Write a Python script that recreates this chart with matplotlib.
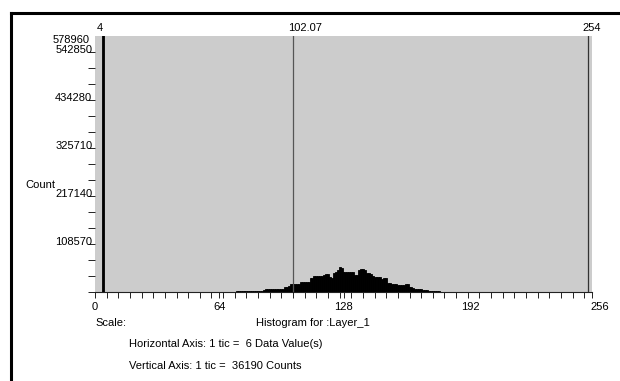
import numpy as np
import matplotlib
matplotlib.use("Agg")
import matplotlib.pyplot as plt
from matplotlib.lines import Line2D
from matplotlib.transforms import ScaledTranslation

plt.rcParams["font.family"] = ["Liberation Sans", "DejaVu Sans"]
plt.rcParams["font.size"] = 8

# histogram data (pixel value -> count)
spike_value = [4]
spike_count = [1500000]  # off the scale, clipped at the top
values = list(range(72, 180))
counts = [800, 1200, 1500, 1800, 2000, 2200, 2300, 2500, 2600, 2700, 2800, 2900, 3000, 3100, 3300, 3500,
          6200, 6400, 6500, 6600, 6700, 6800, 6900, 7000, 7200, 7500,
          11500, 12000, 12500,
          17000, 18000, 18500, 18000, 19000,
          22500, 23000, 23500, 23000, 23500,
          30500, 31500,
          35500, 36500, 36000, 37000, 36500,
          39500, 40500, 40000,
          33000, 31000,
          44000, 46000, 50000,
          55500, 54000,
          46000, 45000, 45500, 45000, 44500, 45000,
          39000, 38000,
          49000, 51000, 51500, 50000,
          43000, 42000, 41500,
          36000, 35000, 34500, 34000, 33000,
          30000, 31500, 32000,
          21000, 19500, 18500,
          17500, 17000, 16500, 16500, 16000,
          16500, 18000, 17500,
          11000, 10500, 10000,
          6500, 6200, 6000, 5800, 5500, 5000,
          3500, 3200, 3000, 2800, 2500, 2000, 1500, 1000, 600]

marker_values = [4, 102.07, 254]
marker_labels = ["4", "102.07", "254"]
x_major = [0, 64, 128, 192, 256]
y_step = 36190
y_max = 578960
y_labels = [108570, 217140, 325710, 434280, 542850]

fig = plt.figure(figsize=(6.2, 3.81), dpi=100)
ax = fig.add_axes([95/620, 89/381, 497/620, 256.3/381])
ax.set_facecolor("#cccccc")

ax.bar(spike_value + values, spike_count + counts, width=1, color="black",
       edgecolor="black", linewidth=0.6, zorder=2)
ax.axvline(marker_values[1], color="#555555", lw=0.9, zorder=3)
ax.axvline(marker_values[2], color="#333333", lw=0.9, zorder=3)

ax.set_xlim(0, 256)
ax.set_ylim(0, y_max)

# marker labels above the plot
for v, s in zip(marker_values, marker_labels):
    ax.annotate(s, xy=(v, 1), xycoords=("data", "axes fraction"), xytext=(-4, 2),
                textcoords="offset points", ha="left", va="bottom", fontsize=8)

# axes ticks
ax.set_xticks(x_major)
ax.set_xticks(np.arange(0, 256, 6), minor=True)
ax.set_yticks(y_labels)
ax.set_yticklabels([str(v) for v in y_labels])
ax.set_yticks(np.arange(0, y_max, y_step), minor=True)
ax.tick_params(axis="x", which="both", direction="out", length=4, width=0.7, pad=3, colors="#222222")
ax.tick_params(axis="x", labelcolor="black")
ax.tick_params(axis="y", which="both", direction="out", length=5, width=0.7, pad=-3, colors="#222222")
ax.tick_params(axis="y", labelcolor="black")
fig.canvas.draw()
up = ScaledTranslation(0, 2/100, fig.dpi_scale_trans)
for lab in ax.get_yticklabels():
    lab.set_verticalalignment("center")
    lab.set_transform(lab.get_transform() + up)
xlabs = ax.get_xticklabels()
xlabs[-1].set_transform(xlabs[-1].get_transform() + ScaledTranslation(8/100, 0, fig.dpi_scale_trans))
xlabs[-2].set_transform(xlabs[-2].get_transform() + ScaledTranslation(3/100, 0, fig.dpi_scale_trans))

# top value label sits just under the top of the axis
ax.annotate(str(y_max), xy=(0, y_max), xycoords=("axes fraction", "data"), xytext=(-4, -2.8),
            textcoords="offset points", ha="right", va="center", fontsize=8)

for sp in ["top", "right", "left"]:
    ax.spines[sp].set_visible(False)
ax.spines["bottom"].set_color("#222222")
ax.spines["bottom"].set_linewidth(0.8)

# texts outside the axes
fig.text(25/620, 1 - 185/381, "Count", ha="left", va="center", fontsize=8)
fig.text(95/620, 1 - 323/381, "Scale:", ha="left", va="center", fontsize=8)
fig.text(256/620, 1 - 323/381, "Histogram for :Layer_1", ha="left", va="center", fontsize=8)
fig.text(129/620, 1 - 344/381, "Horizontal Axis: 1 tic =  6 Data Value(s)", ha="left", va="center", fontsize=8)
fig.text(129/620, 1 - 366/381, "Vertical Axis: 1 tic =  36190 Counts", ha="left", va="center", fontsize=8)

# frame around the window
fig.add_artist(Line2D([11/620, 1], [1 - 13/381, 1 - 13/381], color="black", lw=2.2))
fig.add_artist(Line2D([11/620, 11/620], [0, 1 - 13/381], color="black", lw=2.2))

fig.savefig("out.png", dpi=100)
